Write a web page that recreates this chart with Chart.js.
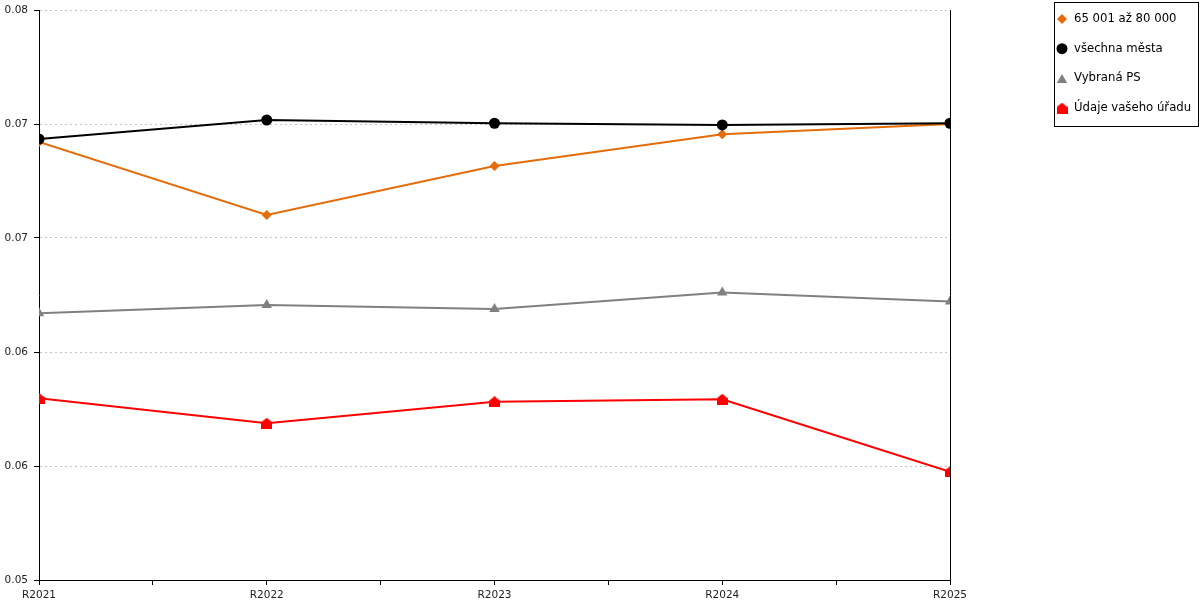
<!DOCTYPE html>
<html><head><meta charset="utf-8">
<script src="https://cdn.jsdelivr.net/npm/chart.js@4/dist/chart.umd.min.js"></script>
<style>html,body{margin:0;padding:0;background:#fff;overflow:hidden}</style>
</head><body>
<canvas id="c" width="1200" height="600"></canvas>
<script>
const categories = ['R2021', 'R2022', 'R2023', 'R2024', 'R2025'];
const seriesNames = ['65 001 až 80 000', 'všechna města', 'Vybraná PS', 'Údaje vašeho úřadu'];
const sizeGroupValues  = [0.07305, 0.06921, 0.07179, 0.07346, 0.07400];
const allCitiesValues  = [0.07321, 0.07421, 0.07404, 0.07395, 0.07404];
const selectedPsValues = [0.06404, 0.06447, 0.06426, 0.06513, 0.06466];
const officeValues     = [0.05956, 0.05825, 0.05938, 0.05951, 0.05570];
const yMin = 0.05, yMax = 0.08, yStep = 0.006;

// house-shaped marker
function houseMarker(color) {
  const c = document.createElement('canvas');
  c.width = 11; c.height = 11;
  const g = c.getContext('2d');
  g.fillStyle = color;
  g.beginPath();
  g.moveTo(0, 4.5); g.lineTo(5.5, 0); g.lineTo(11, 4.5); g.lineTo(11, 11); g.lineTo(0, 11);
  g.closePath(); g.fill();
  return c;
}

const toXY = arr => arr.map((v, i) => ({ x: i, y: v }));

function ds(label, values, color, style, radius, order) {
  return {
    label, data: toXY(values), borderColor: color, backgroundColor: color,
    pointBackgroundColor: color, pointBorderColor: color, pointBorderWidth: 0,
    pointStyle: style, pointRadius: radius, pointHoverRadius: radius,
    borderWidth: 2, tension: 0, fill: false, order
  };
}

const datasets = [
  ds(seriesNames[0], sizeGroupValues, '#e46c0a', 'rectRot', 5, 2),
  ds(seriesNames[1], allCitiesValues, '#000000', 'circle', 5.5, 1),
  ds(seriesNames[2], selectedPsValues, '#808080', 'triangle', 6, 3),
  ds(seriesNames[3], officeValues, '#ff0000', houseMarker('#ff0000'), 5.5, 4)
];

const legendPlugin = {
  id: 'boxLegend',
  afterDraw(chart) {
    const ctx = chart.ctx;
    ctx.save();
    ctx.strokeStyle = '#000'; ctx.lineWidth = 1;
    ctx.strokeRect(1054.5, 2.5, 144, 124);
    ctx.font = '11.7px "DejaVu Sans"';
    ctx.textBaseline = 'middle';
    ctx.textAlign = 'left';
    chart.data.datasets.forEach((d, i) => {
      const y = 19 + i * 29.7;
      ctx.fillStyle = d.pointBackgroundColor;
      ctx.strokeStyle = d.pointBackgroundColor;
      Chart.helpers.drawPoint(ctx, { pointStyle: d.pointStyle, radius: d.pointRadius, rotation: 0, borderWidth: 0 }, 1062, d.pointStyle === 'triangle' ? y + 1.5 : y);
      ctx.fillStyle = '#000';
      ctx.fillText(d.label, 1074, y);
    });
    ctx.restore();
  }
};

new Chart(document.getElementById('c'), {
  type: 'line',
  data: { datasets },
  plugins: [legendPlugin],
  options: {
    responsive: false, animation: false, devicePixelRatio: 1,
    layout: { padding: { top: 10, right: 250, left: 0, bottom: 0 } },
    plugins: { legend: { display: false }, tooltip: { enabled: false } },
    scales: {
      x: {
        type: 'linear', min: 0, max: categories.length - 1,
        ticks: {
          stepSize: 0.5, autoSkip: false, maxRotation: 0, padding: 4,
          font: { family: 'DejaVu Sans', size: 10.5 }, color: '#222',
          callback: v => Number.isInteger(v) ? categories[v] : ''
        },
        grid: { drawOnChartArea: false, drawTicks: true, tickLength: 5, tickColor: '#000', color: '#000' },
        border: { color: '#000', width: 1 },
        afterFit: s => { s.height = 20; }
      },
      y: {
        min: yMin, max: yMax,
        ticks: {
          stepSize: yStep, padding: 6,
          font: { family: 'DejaVu Sans', size: 10.5 }, color: '#222',
          callback: v => v.toFixed(2)
        },
        grid: { color: '#c4c4c4', lineWidth: 1, tickLength: 5, tickColor: '#000' },
        border: { color: '#000', width: 1, dash: [2, 3] },
        afterFit: s => { s.width = 39; s.paddingTop = 0; s.paddingBottom = 0; }
      },
      y2: {
        position: 'right', min: 0, max: 1,
        ticks: { display: false },
        grid: { display: false, drawTicks: false },
        border: { display: true, color: '#000', width: 1 }
      }
    }
  }
});
</script>
</body></html>
